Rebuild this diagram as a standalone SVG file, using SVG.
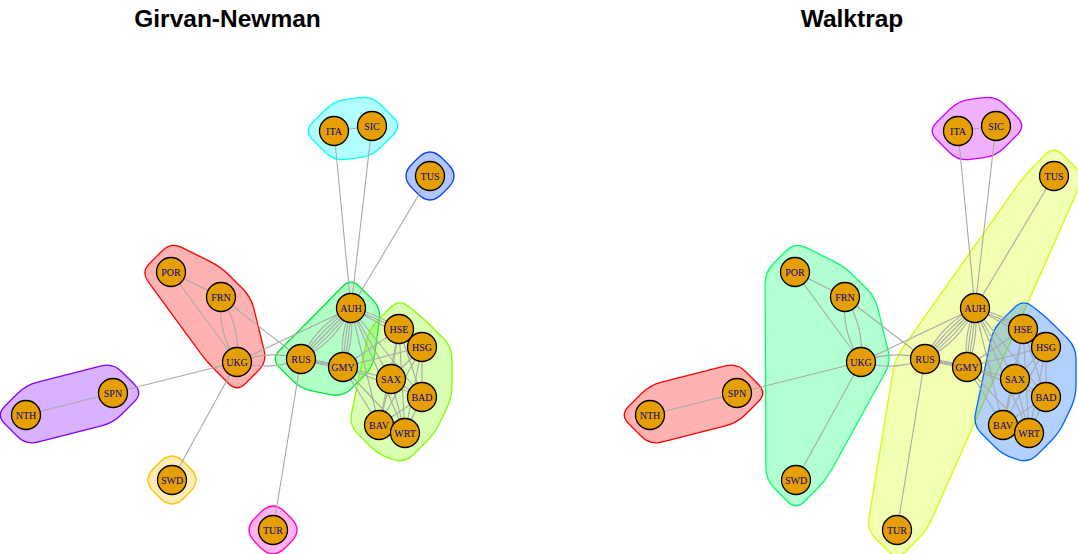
<svg xmlns="http://www.w3.org/2000/svg" xmlns:xlink="http://www.w3.org/1999/xlink" width="1078" height="554" viewBox="0 0 1078 554">
<style>
.title{font-family:"Liberation Sans",Arial,sans-serif;font-weight:bold;font-size:24.5px;text-anchor:middle;fill:#000}
.e{stroke:#A9A9A9;stroke-width:1.1;fill:none}
.hull{stroke-width:1.3;fill-opacity:0.3}
.n circle{fill:#E69F00;stroke:#000;stroke-width:1.3}
.n text{font-family:"Liberation Serif","Times New Roman",serif;font-size:10px;fill:#00008B;text-anchor:middle}
</style>
<rect width="1078" height="554" fill="#fff"/>
<text class="title" x="227.5" y="26.5">Girvan-Newman</text>
<text class="title" x="852" y="26.5">Walktrap</text>

<g id="hulls-gn">
<path class="hull" fill="#FF0000" stroke="#FF0000" d="M149.5,263.5 L162.5,250.5 Q171,242 181.7,247.4 L210.3,261.6 Q221,267 229.5,275.5 L242.5,288.5 Q251,297 253.9,308.7 L264.1,350.3 Q267,362 258.5,370.5 L245.5,383.5 Q237,392 228.5,383.5 L215.5,370.5 Q207,362 199.9,352.3 L148.1,281.7 Q141,272 149.5,263.5 Z"/>
<path class="hull" fill="#00FF40" stroke="#00E63A" d="M279.4,350.5 L342.6,286.5 Q351,278 359.5,286.5 L372.5,299.5 Q381,308 379.4,319.9 L374.6,355.1 Q373,367 364.5,375.5 L351.5,388.5 Q343,397 331.2,394.8 L312.8,391.2 Q301,389 292.5,380.5 L279.5,367.5 Q271,359 279.4,350.5 Z"/>
<path class="hull" fill="#80FF00" stroke="#80FF00" d="M377.5,320.5 L390.5,307.5 Q399,299 408.2,306.2 L412.8,309.8 Q422,317 430.5,325.5 L443.5,338.5 Q452,347 452,359 L452,385 Q452,397 446.9,407.9 L440.1,422.2 Q435,433 426.5,441.5 L413.5,454.5 Q405,463 394.6,459.8 L389.4,458.2 Q379,455 370.5,446.5 L357.5,433.5 Q349,425 351.5,413.3 L366.6,340.8 Q369,329 377.5,320.5 Z"/>
<path class="hull" fill="#00FFFF" stroke="#00FFFF" d="M312.5,122.5 L325.5,109.5 Q334,101 345.9,99.4 L360.1,97.6 Q372,96 380.5,104.5 L393.5,117.5 Q402,126 393.5,134.5 L380.5,147.5 Q372,156 360.1,157.6 L345.9,159.4 Q334,161 325.5,152.5 L312.5,139.5 Q304,131 312.5,122.5 Z"/>
<path class="hull" fill="#0040FF" stroke="#0040FF" d="M448,164 Q460,176 448,188 L442,194 Q430,206 418,194 L412,188 Q400,176 412,164 L418,158 Q430,146 442,158 Z"/>
<path class="hull" fill="#8000FF" stroke="#8000FF" d="M4.5,406.5 L17.5,393.5 Q26,385 37.6,382.1 L101.4,365.9 Q113,363 121.5,371.5 L134.5,384.5 Q143,393 134.5,401.5 L121.5,414.5 Q113,423 101.4,425.9 L37.6,442.1 Q26,445 17.5,436.5 L4.5,423.5 Q-4,415 4.5,406.5 Z"/>
<path class="hull" fill="#FFBF00" stroke="#FFBF00" d="M190,468 Q202,480 190,492 L184,498 Q172,510 160,498 L154,492 Q142,480 154,468 L160,462 Q172,450 184,462 Z"/>
<path class="hull" fill="#FF00BF" stroke="#FF00BF" d="M291,518 Q303,530 291,542 L285,548 Q273,560 261,548 L255,542 Q243,530 255,518 L261,512 Q273,500 285,512 Z"/>
</g>

<g id="edges-gn">
<line class="e" x1="171" y1="272" x2="221" y2="297"/>
<line class="e" x1="171" y1="272" x2="237" y2="362"/>
<path class="e" d="M221,297 Q240.7,326.6 237,362"/>
<path class="e" d="M221,297 Q217.3,332.4 237,362"/>
<line class="e" x1="221" y1="297" x2="301" y2="359"/>
<line class="e" x1="237" y1="362" x2="113" y2="393"/>
<line class="e" x1="113" y1="393" x2="26" y2="415"/>
<line class="e" x1="237" y1="362" x2="172" y2="480"/>
<line class="e" x1="237" y1="362" x2="351" y2="308"/>
<path class="e" d="M237,362 Q269.5,371.5 301,359"/>
<path class="e" d="M237,362 Q268.5,349.5 301,359"/>
<line class="e" x1="301" y1="359" x2="351" y2="308"/>
<path class="e" d="M301,359 Q316.7,324.4 351,308"/>
<path class="e" d="M301,359 Q321.4,328.95 351,308"/>
<path class="e" d="M301,359 Q330.6,338.05 351,308"/>
<path class="e" d="M301,359 Q335.3,342.6 351,308"/>
<path class="e" d="M351,308 Q339.1,336.4 343,367"/>
<path class="e" d="M351,308 Q344.3,337.1 343,367"/>
<path class="e" d="M351,308 Q349.7,337.9 343,367"/>
<path class="e" d="M351,308 Q354.9,338.6 343,367"/>
<path class="e" d="M301,359 Q321.4,365.9 343,367"/>
<path class="e" d="M301,359 Q322.6,360.1 343,367"/>
<path class="e" d="M301,359 Q321.8,364 343,367"/>
<path class="e" d="M301,359 Q322.2,362 343,367"/>
<line class="e" x1="301" y1="359" x2="273" y2="530"/>
<line class="e" x1="351" y1="308" x2="334" y2="131"/>
<line class="e" x1="351" y1="308" x2="372" y2="126"/>
<line class="e" x1="351" y1="308" x2="430" y2="176"/>
<line class="e" x1="334" y1="131" x2="372" y2="126"/>
<line class="e" x1="351" y1="308" x2="399" y2="329"/>
<path class="e" d="M351,308 Q376,313 399,329"/>
<line class="e" x1="351" y1="308" x2="422" y2="347"/>
<line class="e" x1="351" y1="308" x2="391" y2="379"/>
<line class="e" x1="351" y1="308" x2="422" y2="397"/>
<line class="e" x1="351" y1="308" x2="379" y2="425"/>
<line class="e" x1="351" y1="308" x2="405" y2="433"/>
<line class="e" x1="343" y1="367" x2="399" y2="329"/>
<line class="e" x1="343" y1="367" x2="422" y2="347"/>
<line class="e" x1="343" y1="367" x2="391" y2="379"/>
<line class="e" x1="343" y1="367" x2="422" y2="397"/>
<line class="e" x1="343" y1="367" x2="379" y2="425"/>
<line class="e" x1="343" y1="367" x2="405" y2="433"/>
<line class="e" x1="399" y1="329" x2="422" y2="347"/>
<line class="e" x1="399" y1="329" x2="391" y2="379"/>
<line class="e" x1="399" y1="329" x2="422" y2="397"/>
<line class="e" x1="399" y1="329" x2="379" y2="425"/>
<line class="e" x1="399" y1="329" x2="405" y2="433"/>
<line class="e" x1="422" y1="347" x2="391" y2="379"/>
<line class="e" x1="422" y1="347" x2="422" y2="397"/>
<line class="e" x1="422" y1="347" x2="379" y2="425"/>
<line class="e" x1="422" y1="347" x2="405" y2="433"/>
<line class="e" x1="391" y1="379" x2="422" y2="397"/>
<line class="e" x1="391" y1="379" x2="379" y2="425"/>
<line class="e" x1="391" y1="379" x2="405" y2="433"/>
<line class="e" x1="422" y1="397" x2="379" y2="425"/>
<line class="e" x1="422" y1="397" x2="405" y2="433"/>
<line class="e" x1="379" y1="425" x2="405" y2="433"/>
</g>

<g id="nodes-gn">
<g id="gn-POR" class="n"><circle cx="171" cy="272" r="14.5"/><text x="171" y="275.5">POR</text></g>
<g id="gn-FRN" class="n"><circle cx="221" cy="297" r="14.5"/><text x="221" y="300.5">FRN</text></g>
<g id="gn-UKG" class="n"><circle cx="237" cy="362" r="14.5"/><text x="237" y="365.5">UKG</text></g>
<g id="gn-RUS" class="n"><circle cx="301" cy="359" r="14.5"/><text x="301" y="362.5">RUS</text></g>
<g id="gn-AUH" class="n"><circle cx="351" cy="308" r="14.5"/><text x="351" y="311.5">AUH</text></g>
<g id="gn-GMY" class="n"><circle cx="343" cy="367" r="14.5"/><text x="343" y="370.5">GMY</text></g>
<g id="gn-HSE" class="n"><circle cx="399" cy="329" r="14.5"/><text x="399" y="332.5">HSE</text></g>
<g id="gn-HSG" class="n"><circle cx="422" cy="347" r="14.5"/><text x="422" y="350.5">HSG</text></g>
<g id="gn-SAX" class="n"><circle cx="391" cy="379" r="14.5"/><text x="391" y="382.5">SAX</text></g>
<g id="gn-BAD" class="n"><circle cx="422" cy="397" r="14.5"/><text x="422" y="400.5">BAD</text></g>
<g id="gn-BAV" class="n"><circle cx="379" cy="425" r="14.5"/><text x="379" y="428.5">BAV</text></g>
<g id="gn-WRT" class="n"><circle cx="405" cy="433" r="14.5"/><text x="405" y="436.5">WRT</text></g>
<g id="gn-ITA" class="n"><circle cx="334" cy="131" r="14.5"/><text x="334" y="134.5">ITA</text></g>
<g id="gn-SIC" class="n"><circle cx="372" cy="126" r="14.5"/><text x="372" y="129.5">SIC</text></g>
<g id="gn-TUS" class="n"><circle cx="430" cy="176" r="14.5"/><text x="430" y="179.5">TUS</text></g>
<g id="gn-SPN" class="n"><circle cx="113" cy="393" r="14.5"/><text x="113" y="396.5">SPN</text></g>
<g id="gn-NTH" class="n"><circle cx="26" cy="415" r="14.5"/><text x="26" y="418.5">NTH</text></g>
<g id="gn-SWD" class="n"><circle cx="172" cy="480" r="14.5"/><text x="172" y="483.5">SWD</text></g>
<g id="gn-TUR" class="n"><circle cx="273" cy="530" r="14.5"/><text x="273" y="533.5">TUR</text></g>
</g>

<g id="hulls-wt" transform="translate(624 0)">
<path class="hull" fill="#FF0000" stroke="#FF0000" d="M4.5,406.5 L17.5,393.5 Q26,385 37.6,382.1 L101.4,365.9 Q113,363 121.5,371.5 L134.5,384.5 Q143,393 134.5,401.5 L121.5,414.5 Q113,423 101.4,425.9 L37.6,442.1 Q26,445 17.5,436.5 L4.5,423.5 Q-4,415 4.5,406.5 Z"/>
<path class="hull" fill="#CCFF00" stroke="#CCFF00" d="M408.5,167.5 L421.5,154.5 Q430,146 438.5,154.5 L451.5,167.5 Q460,176 455.1,187 L307.9,519 Q303,530 294.5,538.5 L281.5,551.5 Q273,560 264.5,551.5 L251.5,538.5 Q243,530 244.9,518.2 L269.1,370.8 Q271,359 277.9,349.2 L393.1,185.8 Q400,176 408.5,167.5 Z"/>
<path class="hull" fill="#00FF66" stroke="#00FF66" d="M149.5,263.5 L162.5,250.5 Q171,242 181.7,247.4 L210.3,261.6 Q221,267 229.5,275.5 L242.5,288.5 Q251,297 253.9,308.7 L264.1,350.3 Q267,362 261.2,372.5 L207.8,469.5 Q202,480 193.5,488.5 L180.5,501.5 Q172,510 163.5,501.5 L150.5,488.5 Q142,480 141.9,468 L141.1,284 Q141,272 149.5,263.5 Z"/>
<path class="hull" fill="#0066FF" stroke="#0066FF" d="M377.5,320.5 L390.5,307.5 Q399,299 408.2,306.2 L412.8,309.8 Q422,317 430.5,325.5 L443.5,338.5 Q452,347 452,359 L452,385 Q452,397 446.9,407.9 L440.1,422.2 Q435,433 426.5,441.5 L413.5,454.5 Q405,463 394.6,459.8 L389.4,458.2 Q379,455 370.5,446.5 L357.5,433.5 Q349,425 351.5,413.3 L366.6,340.8 Q369,329 377.5,320.5 Z"/>
<path class="hull" fill="#CC00FF" stroke="#CC00FF" d="M312.5,122.5 L325.5,109.5 Q334,101 345.9,99.4 L360.1,97.6 Q372,96 380.5,104.5 L393.5,117.5 Q402,126 393.5,134.5 L380.5,147.5 Q372,156 360.1,157.6 L345.9,159.4 Q334,161 325.5,152.5 L312.5,139.5 Q304,131 312.5,122.5 Z"/>
</g>

<g id="edges-wt">
<use xlink:href="#edges-gn" href="#edges-gn" x="624" y="0"/>
</g>

<g id="nodes-wt">
<g id="wt-POR" class="n"><circle cx="795" cy="272" r="14.5"/><text x="795" y="275.5">POR</text></g>
<g id="wt-FRN" class="n"><circle cx="845" cy="297" r="14.5"/><text x="845" y="300.5">FRN</text></g>
<g id="wt-UKG" class="n"><circle cx="861" cy="362" r="14.5"/><text x="861" y="365.5">UKG</text></g>
<g id="wt-RUS" class="n"><circle cx="925" cy="359" r="14.5"/><text x="925" y="362.5">RUS</text></g>
<g id="wt-AUH" class="n"><circle cx="975" cy="308" r="14.5"/><text x="975" y="311.5">AUH</text></g>
<g id="wt-GMY" class="n"><circle cx="967" cy="367" r="14.5"/><text x="967" y="370.5">GMY</text></g>
<g id="wt-HSE" class="n"><circle cx="1023" cy="329" r="14.5"/><text x="1023" y="332.5">HSE</text></g>
<g id="wt-HSG" class="n"><circle cx="1046" cy="347" r="14.5"/><text x="1046" y="350.5">HSG</text></g>
<g id="wt-SAX" class="n"><circle cx="1015" cy="379" r="14.5"/><text x="1015" y="382.5">SAX</text></g>
<g id="wt-BAD" class="n"><circle cx="1046" cy="397" r="14.5"/><text x="1046" y="400.5">BAD</text></g>
<g id="wt-BAV" class="n"><circle cx="1003" cy="425" r="14.5"/><text x="1003" y="428.5">BAV</text></g>
<g id="wt-WRT" class="n"><circle cx="1029" cy="433" r="14.5"/><text x="1029" y="436.5">WRT</text></g>
<g id="wt-ITA" class="n"><circle cx="958" cy="131" r="14.5"/><text x="958" y="134.5">ITA</text></g>
<g id="wt-SIC" class="n"><circle cx="996" cy="126" r="14.5"/><text x="996" y="129.5">SIC</text></g>
<g id="wt-TUS" class="n"><circle cx="1054" cy="176" r="14.5"/><text x="1054" y="179.5">TUS</text></g>
<g id="wt-SPN" class="n"><circle cx="737" cy="393" r="14.5"/><text x="737" y="396.5">SPN</text></g>
<g id="wt-NTH" class="n"><circle cx="650" cy="415" r="14.5"/><text x="650" y="418.5">NTH</text></g>
<g id="wt-SWD" class="n"><circle cx="796" cy="480" r="14.5"/><text x="796" y="483.5">SWD</text></g>
<g id="wt-TUR" class="n"><circle cx="897" cy="530" r="14.5"/><text x="897" y="533.5">TUR</text></g>
</g>
</svg>
